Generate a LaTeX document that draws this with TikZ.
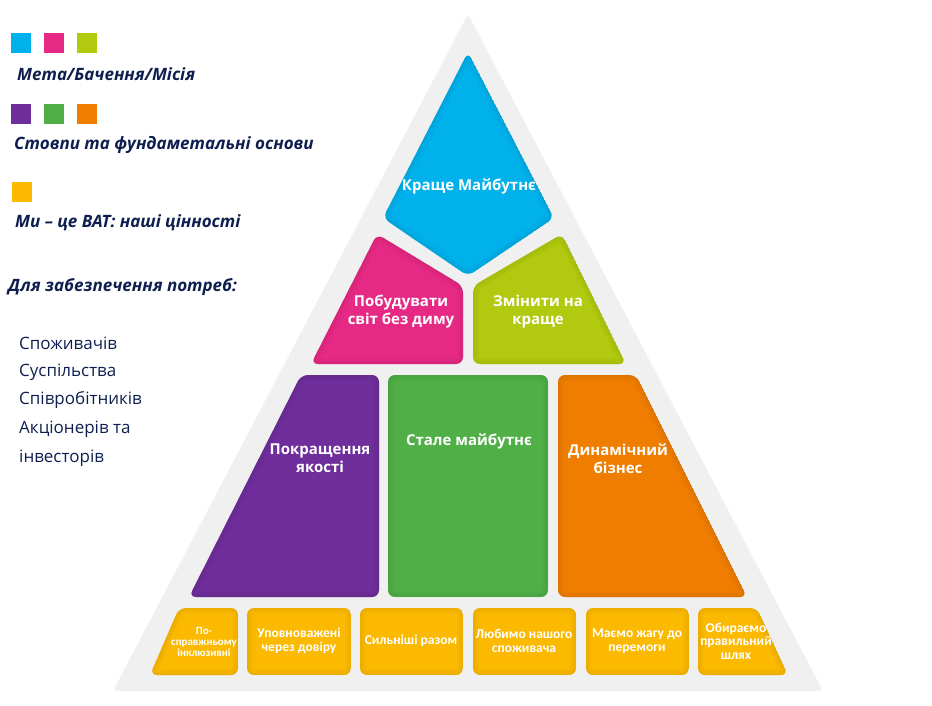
\documentclass[tikz,border=0pt]{standalone}
\usepackage{fontspec}
\setmainfont{Open Sans}
\newfontfamily\condfont{Carlito}
\definecolor{bggray}{HTML}{F0F0F0}
\definecolor{cblue}{HTML}{00B1EB}
\definecolor{cpink}{HTML}{E62984}
\definecolor{clime}{HTML}{B1C90F}
\definecolor{cpurple}{HTML}{6F2E9B}
\definecolor{cgreen}{HTML}{50AF47}
\definecolor{corange}{HTML}{EF7D00}
\definecolor{cyellow}{HTML}{FBB900}
\definecolor{navy}{HTML}{0E1F4F}
\tikzset{
  blk/.style={rounded corners=7pt},
  lbl/.style={text=white, font=\fontsize{15}{18}\selectfont\bfseries, align=center, inner sep=0pt},
  vlbl/.style={text=white, font=\condfont\fontsize{13.5}{13.5}\selectfont\bfseries, align=center, inner sep=0pt},
  sq/.style={minimum size=20pt, inner sep=0pt},
  legtxt/.style={text=navy, font=\fontsize{17}{20}\selectfont\bfseries\itshape, anchor=west, inner sep=0pt},
  listtxt/.style={text=navy, font=\fontsize{17}{20}\selectfont, anchor=west, inner sep=0pt}
}
\newcommand\pyrblock[2]{%
  \begin{scope}
    \clip[blk] #2;
    \fill[#1] #2;
    \foreach \w in {12,9,6,3}{
      \draw[#1!70!black, opacity=0.05, line width=\w pt, blk] #2;
    }
  \end{scope}}
\begin{document}
\begin{tikzpicture}[x=1pt,y=-1pt]
\useasboundingbox (0,0) rectangle (932,706);
% background triangle
\fill[bggray, rounded corners=4pt] (468,14) -- (823,691) -- (113,691) -- cycle;
% mission level
\pyrblock{cblue}{(468,52) -- (554,218) -- (468,276) -- (383,218) -- cycle}
\pyrblock{cpink}{(377,234) -- (463,286) -- (463,364) -- (311,364) -- cycle}
\pyrblock{clime}{(562,234) -- (473,286) -- (473,364) -- (626,364) -- cycle}
% pillars
\pyrblock{cpurple}{(301,375) -- (379,375) -- (379,597) -- (189,597) -- cycle}
\pyrblock{cgreen}{(388,375) -- (548,375) -- (548,597) -- (388,597) -- cycle}
\pyrblock{corange}{(558,375) -- (636,375) -- (747,597) -- (558,597) -- cycle}
% values
\pyrblock{cyellow}{(179,608) -- (238,608) -- (238,675) -- (150,675) -- cycle}
\pyrblock{cyellow}{(247,608) -- (351,608) -- (351,675) -- (247,675) -- cycle}
\pyrblock{cyellow}{(360,608) -- (463,608) -- (463,675) -- (360,675) -- cycle}
\pyrblock{cyellow}{(473,608) -- (576,608) -- (576,675) -- (473,675) -- cycle}
\pyrblock{cyellow}{(586,608) -- (689,608) -- (689,675) -- (586,675) -- cycle}
\pyrblock{cyellow}{(698,608) -- (757,608) -- (788,675) -- (698,675) -- cycle}
% labels
\node[lbl] (t1) at (469,186) {Краще Майбутнє};
\node[lbl] (t2) at (401,312) {Побудувати\\світ без диму};
\node[lbl] (t3) at (538,312) {Змінити на\\краще};
\node[lbl] (t4) at (320,458) {Покращення\\якості};
\node[lbl] (t5) at (469,441) {Стале майбутнє};
\node[lbl] (t6) at (618,459) {Динамічний\\бізнес};
\node[vlbl, font=\condfont\fontsize{11}{11}\selectfont\bfseries] (v1) at (204,642) {По-\\справжньому\\інклюзивні};
\node[vlbl] (v2) at (299,641) {Уповноважені\\через довіру};
\node[vlbl] (v3) at (411,641) {Сильніші разом};
\node[vlbl] (v4) at (524,641) {Любимо нашого\\споживача};
\node[vlbl] (v5) at (637,641) {Маємо жагу до\\перемоги};
\node[vlbl] (v6) at (736,641) {Обираємо\\правильний\\шлях};
% legend
\node[sq, fill=cblue] (s1) at (21,43) {};
\node[sq, fill=cpink] (s2) at (54,43) {};
\node[sq, fill=clime] (s3) at (87,43) {};
\node[legtxt] (l1) at (17,74) {Мета/Бачення/Місія};
\node[sq, fill=cpurple] (s4) at (21,114) {};
\node[sq, fill=cgreen] (s5) at (54,114) {};
\node[sq, fill=corange] (s6) at (87,114) {};
\node[legtxt] (l2) at (14,145) {Стовпи та фундаметальні основи};
\node[sq, fill=cyellow] (s7) at (22,192) {};
\node[legtxt] (l3) at (15,223) {Ми – це BAT: наші цінності};
\node[legtxt] (l4) at (8,287) {Для забезпечення потреб:};
\node[listtxt] (n1) at (19,343) {Споживачів};
\node[listtxt] (n2) at (19,372) {Суспільства};
\node[listtxt] (n3) at (19,400) {Співробітників};
\node[listtxt] (n4) at (19,429) {Акціонерів та};
\node[listtxt] (n5) at (19,458) {інвесторів};
\end{tikzpicture}
\end{document}
